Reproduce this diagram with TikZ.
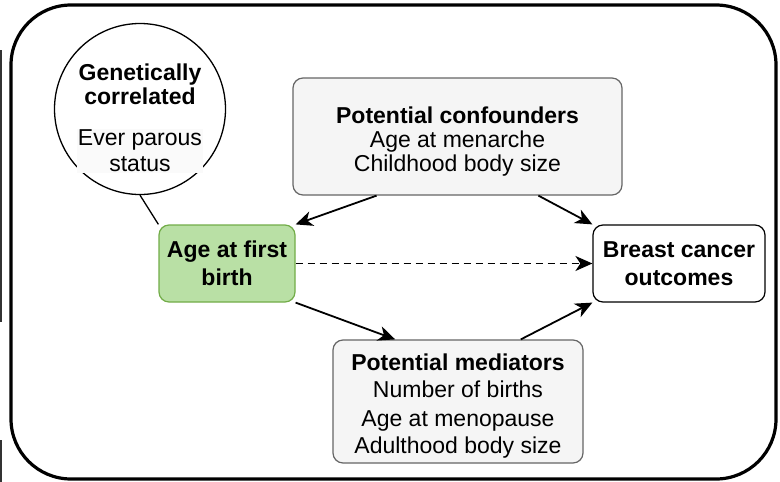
\documentclass[tikz,border=0pt]{standalone}
\usepackage{fontspec}
\setmainfont{Liberation Sans}
\usetikzlibrary{positioning,calc,arrows.meta}
\definecolor{greenfill}{HTML}{B9E0A5}
\definecolor{greenline}{HTML}{72AC48}
\definecolor{greyfill}{HTML}{F5F5F5}
\definecolor{greyline}{HTML}{666666}

\tikzset{
  box/.style={rounded corners=10pt, line width=1.2pt, align=center, inner sep=0pt},
  varbox/.style={box, draw=greyline, fill=greyfill},
  boxtext/.style={align=center, inner sep=0pt},
  arr/.style={-{Stealth[length=17pt,width=15pt,inset=5pt]}, line width=1.8pt}
}

\begin{document}
\begin{tikzpicture}[x=1pt, y=-1pt]
  \useasboundingbox (0,0) rectangle (780,482);

  % Frame
  \draw[line width=3.2pt, rounded corners=60pt] (11,5) rectangle (776,479);
  \draw[line width=1.5pt, black!80] (1,50) -- (1,322);
  \draw[line width=1.5pt, black!80] (1,440) -- (1,482);

  % Genetically correlated
  \node[circle, draw, line width=1.3pt, minimum size=171pt, inner sep=0pt] (gen) at (140,109) {};
  \node[boxtext, font=\fontsize{23}{24}\selectfont\bfseries] (gentitle) at (140,84) {Genetically\\correlated};
  \node[boxtext, inner sep=1pt, fill=black!2, font=\fontsize{23}{26}\selectfont] (parous) at (140,151) {Ever parous\\status};

  % Exposure and outcome
  \node[box, draw=greenline, fill=greenfill, minimum width=136pt, minimum height=77pt,
        font=\fontsize{23}{28}\selectfont\bfseries] (age) at (227,263.5) {Age at first\\birth};
  \node[box, draw, fill=white, minimum width=172pt, minimum height=77pt,
        font=\fontsize{23}{28}\selectfont\bfseries] (breast) at (679,263.5) {Breast cancer\\outcomes};

  % Confounders
  \node[varbox, minimum width=329pt, minimum height=117pt] (conf) at (457.5,136.5) {};
  \node[boxtext, font=\fontsize{23}{24}\selectfont] (conftext) at (457.5,141.5)
    {\textbf{Potential confounders}\\Age at menarche\\Childhood body size};

  % Mediators
  \node[varbox, minimum width=250pt, minimum height=123pt] (med) at (458,401.5) {};
  \node[boxtext, font=\fontsize{23}{27}\selectfont] (medtext) at (458,406)
    {\textbf{Potential mediators}\\Number of births\\[2pt]Age at menopause\\Adulthood body size};

  % Paths
  \draw[line width=1.3pt] (gen.south) -- (age.north west);
  \draw[arr] ($(conf.south west)!0.255!(conf.south east)$) -- (age.north east);
  \draw[arr] ($(conf.south west)!0.745!(conf.south east)$) -- (breast.north west);
  \draw[arr] (age.south east) -- ($(med.north west)!0.25!(med.north east)$);
  \draw[arr] ($(med.north west)!0.75!(med.north east)$) -- (breast.south west);
  \draw[arr, dash pattern=on 7pt off 5pt] (age) -- (breast);
\end{tikzpicture}
\end{document}
